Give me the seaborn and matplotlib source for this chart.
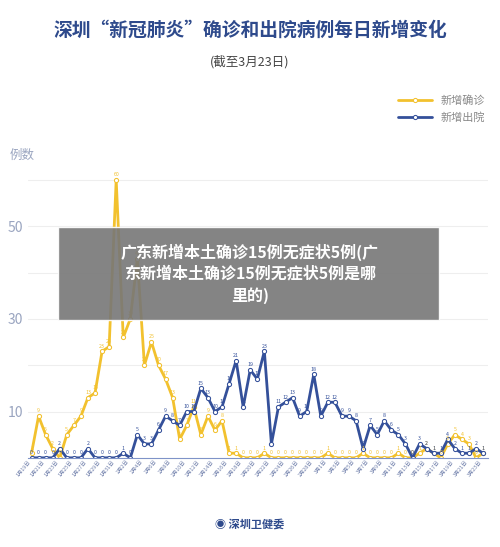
import numpy as np
import pandas as pd
import matplotlib.pyplot as plt
import seaborn as sns

sns.set_style("white")
plt.rcParams['font.family'] = ['Noto Sans CJK SC', 'DejaVu Sans']

dates = pd.date_range("2020-01-19", "2020-03-23")
labels = [f"{d.month}月{d.day}日" for d in dates]

confirmed = [1, 9, 5, 2, 0, 5, 7, 9, 13, 14, 23, 24, 60, 26, 30, 43, 20, 25, 20, 17,
             13, 4, 7, 11, 5, 9, 6, 8, 1, 1, 0, 0, 0, 1, 0, 0, 0, 0, 0, 0,
             0, 0, 1, 0, 0, 0, 0, 1, 0, 0, 0, 0, 1, 0, 0, 1, 2, 1, 0, 3,
             5, 4, 3, 0, 1]
discharged = [0, 0, 0, 0, 2, 0, 0, 0, 2, 0, 0, 0, 0, 1, 0, 5, 3, 3, 6, 9,
              8, 7, 10, 10, 15, 13, 10, 11, 16, 21, 11, 19, 17, 23, 3, 11, 12, 13, 9, 10,
              18, 9, 12, 12, 9, 9, 8, 2, 7, 5, 8, 6, 5, 3, 0, 3, 2, 1, 1, 4,
              2, 1, 1, 2, 1]

yellow = "#f2c12e"
blue = "#34509a"
df = pd.DataFrame({"x": np.arange(len(dates)), "新增确诊": confirmed, "新增出院": discharged})

fig = plt.figure(figsize=(5.0, 5.47), dpi=100)
fig.patch.set_facecolor("white")
ax = fig.add_axes([0.056, 0.163, 0.92, 0.525])

sns.lineplot(data=df, x="x", y="新增确诊", ax=ax, color=yellow, lw=2, marker="o",
             markersize=3, markerfacecolor="white", markeredgecolor=yellow, label="新增确诊")
sns.lineplot(data=df, x="x", y="新增出院", ax=ax, color=blue, lw=2, marker="o",
             markersize=3, markerfacecolor="white", markeredgecolor=blue, label="新增出院")

for i in range(len(dates)):
    ax.text(i, confirmed[i] + 0.8, str(confirmed[i]), color=yellow, fontsize=3.8, ha="center")
    ax.text(i, discharged[i] + 0.8, str(discharged[i]), color=blue, fontsize=3.8, ha="center")

ax.set_xlim(-0.5, len(dates) - 0.3)
ax.set_ylim(0, 62)
ax.set_yticks([10, 30, 50])
ax.set_yticks([20, 40, 60], minor=True)
ax.grid(axis="y", which="both", color="#eeeeee", lw=0.8)
ax.tick_params(axis="y", labelsize=10, labelcolor="#9aa5c0", length=0)
ax.set_xticks(np.arange(0, len(dates), 2))
ax.set_xticklabels(labels[::2], rotation=50, fontsize=3.8, color="#6a7aa8", ha="right")
ax.tick_params(axis="x", length=0, pad=1)
for s in ["top", "right", "left"]:
    ax.spines[s].set_visible(False)
ax.spines["bottom"].set_color("#7f93c8")
ax.set_xlabel("")
ax.set_ylabel("")
ax.legend(loc="upper right", bbox_to_anchor=(0.99, 0.845), bbox_transform=fig.transFigure,
          frameon=False, fontsize=8, labelcolor="#888888", handlelength=3, labelspacing=0.6)

fig.text(0.5, 0.935, "深圳“新冠肺炎”确诊和出院病例每日新增变化", ha="center", fontsize=13.5,
         color="#2e4a8c", weight="bold")
fig.text(0.5, 0.88, "(截至3月23日)", ha="center", fontsize=9, color="#444444")
fig.text(0.02, 0.71, "例数", fontsize=9, color="#9aa5c0")

fig.patches.append(plt.Rectangle((0.116, 0.415), 0.762, 0.17, transform=fig.transFigure,
                                 facecolor="#777777", alpha=0.9, zorder=10))
fig.text(0.5, 0.5, "广东新增本土确诊15例无症状5例(广\n东新增本土确诊15例无症状5例是哪\n里的)",
         ha="center", va="center", fontsize=11.5, color="white", weight="bold",
         linespacing=1.4, zorder=11)

fig.text(0.5, 0.035, "◉ 深圳卫健委", ha="center", fontsize=8, color="#2e4a8c", weight="bold")

fig.savefig("out.png", dpi=100)
